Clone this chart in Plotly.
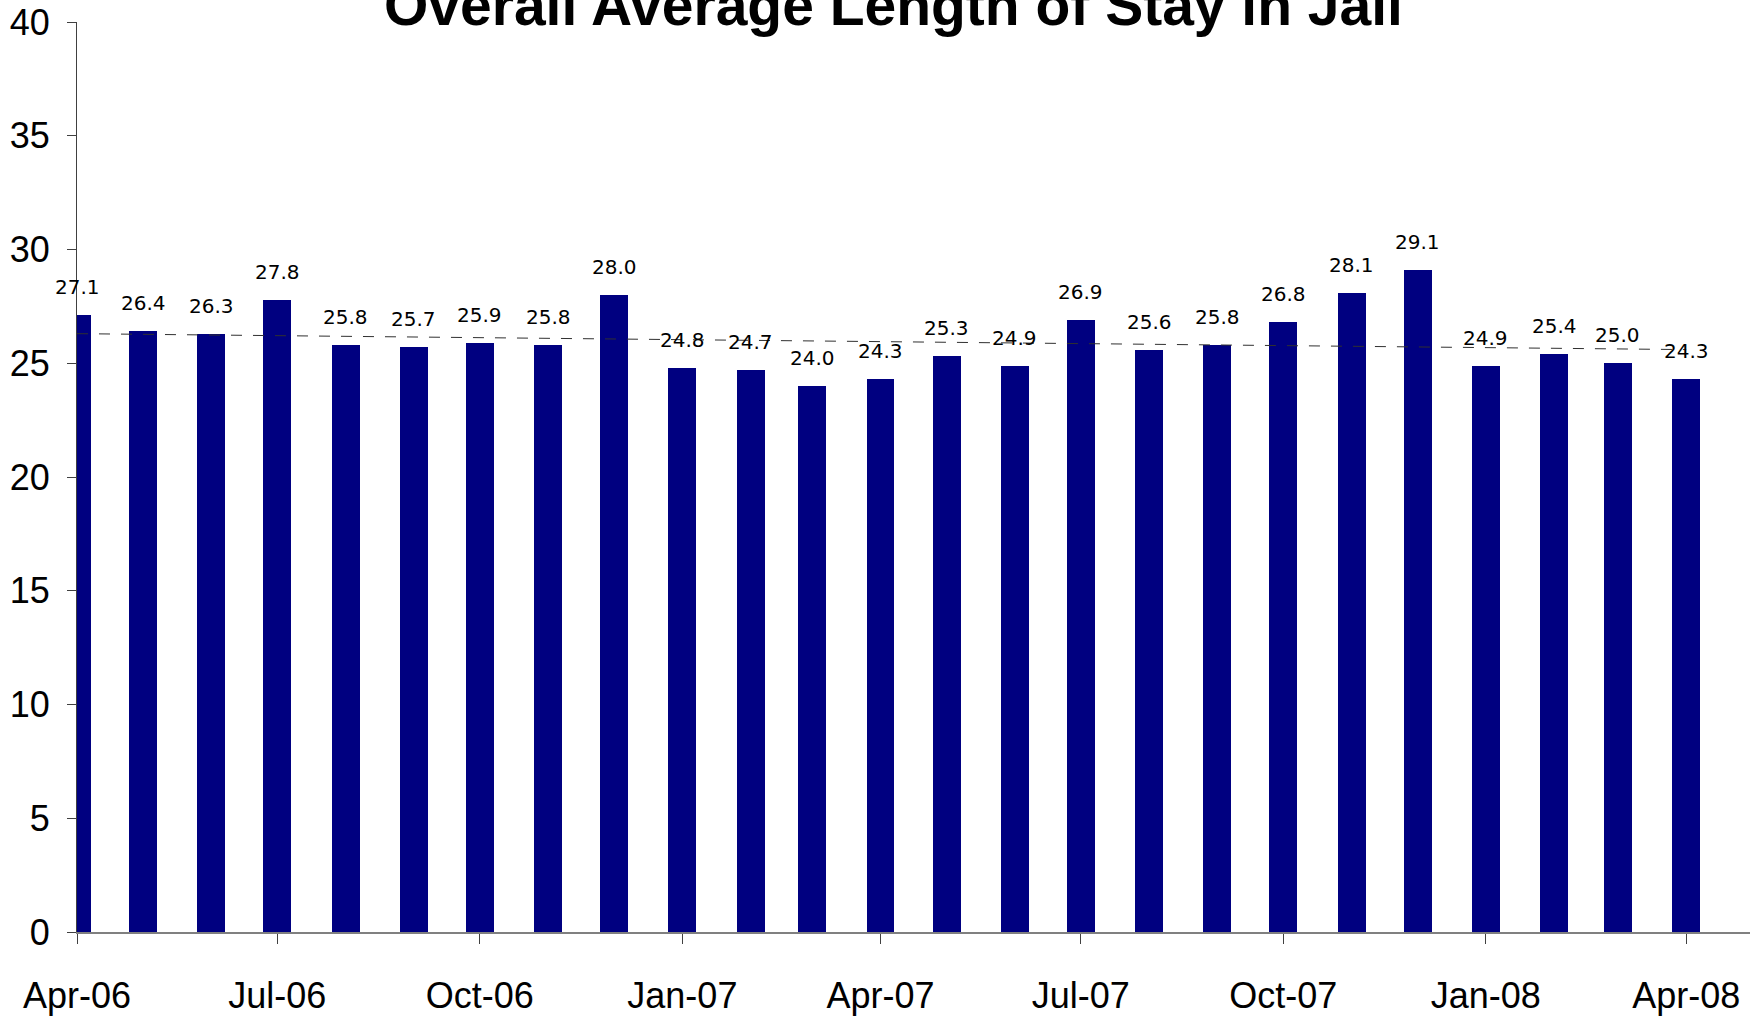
import plotly.graph_objects as go

months = ["2006-04-01", "2006-05-01", "2006-06-01", "2006-07-01", "2006-08-01",
          "2006-09-01", "2006-10-01", "2006-11-01", "2006-12-01", "2007-01-01",
          "2007-02-01", "2007-03-01", "2007-04-01", "2007-05-01", "2007-06-01",
          "2007-07-01", "2007-08-01", "2007-09-01", "2007-10-01", "2007-11-01",
          "2007-12-01", "2008-01-01", "2008-02-01", "2008-03-01", "2008-04-01"]
avg_los = [27.1, 26.4, 26.3, 27.8, 25.8, 25.7, 25.9, 25.8, 28.0, 24.8,
           24.7, 24.0, 24.3, 25.3, 24.9, 26.9, 25.6, 25.8, 26.8, 28.1,
           29.1, 24.9, 25.4, 25.0, 24.3]
trend_x = ["2006-04-01", "2008-04-01"]
trend_y = [26.3, 25.6]

title_text = "Overall Average Length of Stay in Jail"
NARROW = "Liberation Sans Narrow, Arial Narrow, Liberation Sans, Arial"

fig = go.Figure()
fig.add_trace(go.Bar(
    x=months, y=avg_los, marker=dict(color="#000080", line=dict(width=0)),
    width=12.7 * 86400000, showlegend=False, hoverinfo="x+y"))
fig.add_trace(go.Scatter(
    x=trend_x, y=trend_y, mode="lines",
    line=dict(color="#303030", width=1, dash="11px,11px"), showlegend=False))

for m, v in zip(months, avg_los):
    fig.add_annotation(
        x=m, y=v, xref="x", yref="y", text=f"{v:.1f}", showarrow=False,
        yanchor="bottom", xanchor="center", yshift=14,
        font=dict(family="DejaVu Sans", size=20, color="#000000"))

fig.add_annotation(
    x=0.4883, y=1.0192, xref="paper", yref="paper", text="<b>" + title_text + "</b>",
    showarrow=False, xanchor="center", yanchor="middle",
    font=dict(family="Liberation Sans, Arial", size=57, color="#000000"))

fig.update_layout(
    width=1764, height=1017,
    margin=dict(l=77, r=14, t=22, b=85),
    paper_bgcolor="white", plot_bgcolor="white",
    bargap=0,
)
fig.update_xaxes(
    type="date", range=["2006-04-01", "2008-04-30"], automargin=False,
    tick0="2006-04-01", dtick="M3", tickformat="%b-%y",
    showline=True, linecolor="#808080", linewidth=1.5,
    ticks="outside", ticklen=10, tickcolor="#404040",
    showgrid=False, zeroline=False, ticklabelstandoff=21,
    tickfont=dict(family=NARROW, size=36, color="#000000"))
fig.update_yaxes(
    range=[0, 40], dtick=5, tick0=0, automargin=False,
    showline=True, linecolor="#404040", linewidth=1,
    ticks="outside", ticklen=9, tickcolor="#404040",
    showgrid=False, zeroline=False, ticklabelstandoff=10,
    tickfont=dict(family=NARROW, size=36, color="#000000"))

fig.write_html(
    "out.html",
    config={"displayModeBar": False},
    post_script="document.body.style.margin='0';document.body.style.overflow='hidden';")
